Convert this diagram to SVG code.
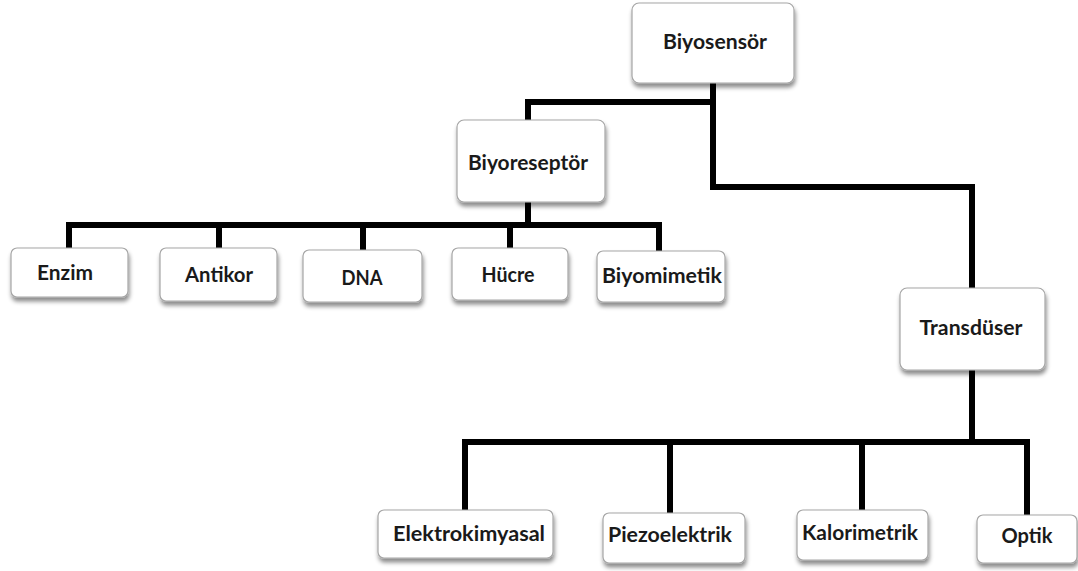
<svg xmlns="http://www.w3.org/2000/svg" width="1078" height="571" viewBox="0 0 1078 571">
<defs>
<filter id="sh" x="-10%" y="-10%" width="125%" height="140%">
<feDropShadow dx="1" dy="4" stdDeviation="2" flood-color="#000" flood-opacity="0.45"/>
</filter>
<style>
.box{fill:#fff;stroke:#a6a6a6;stroke-width:1.2;filter:url(#sh)}
.lbl{font-family:Lato,"Open Sans","Liberation Sans",sans-serif;font-weight:bold;font-size:20px;fill:#1a1a1a;text-anchor:middle}
.con{fill:none;stroke:#000;stroke-width:6;stroke-linejoin:miter;stroke-linecap:butt}
</style>
</defs>
<rect width="1078" height="571" fill="#fff"/>
<g id="connectors">
<path class="con" d="M713 83 V102 H528 V120"/>
<path class="con" d="M713 102 V187 H972 V288"/>
<path class="con" d="M528 202 V225"/>
<path class="con" d="M69 248 V225 H659 V251"/>
<path class="con" d="M219 225 V248"/>
<path class="con" d="M363 225 V250"/>
<path class="con" d="M510 225 V248"/>
<path class="con" d="M972 370 V442"/>
<path class="con" d="M465 510 V442 H1027 V515"/>
<path class="con" d="M670 442 V513"/>
<path class="con" d="M862 442 V510"/>
</g>
<g id="biyosensor"><rect class="box" x="632" y="3" width="162" height="80" rx="7"/><text class="lbl" x="715" y="49" textLength="104" lengthAdjust="spacingAndGlyphs">Biyosensör</text></g>
<g id="biyoreseptor"><rect class="box" x="457" y="120" width="148" height="82" rx="7"/><text class="lbl" x="528" y="170" textLength="120" lengthAdjust="spacingAndGlyphs">Biyoreseptör</text></g>
<g id="enzim"><rect class="box" x="11" y="248" width="117" height="49" rx="6"/><text class="lbl" x="65" y="280" textLength="56" lengthAdjust="spacingAndGlyphs">Enzim</text></g>
<g id="antikor"><rect class="box" x="160" y="248" width="117" height="53" rx="6"/><text class="lbl" x="219" y="282" textLength="68" lengthAdjust="spacingAndGlyphs">Antikor</text></g>
<g id="dna"><rect class="box" x="303" y="250" width="119" height="52" rx="6"/><text class="lbl" x="362" y="285" textLength="41" lengthAdjust="spacingAndGlyphs">DNA</text></g>
<g id="hucre"><rect class="box" x="452" y="248" width="116" height="52" rx="6"/><text class="lbl" x="508" y="282" textLength="53" lengthAdjust="spacingAndGlyphs">Hücre</text></g>
<g id="biyomimetik"><rect class="box" x="597" y="251" width="128" height="51" rx="6"/><text class="lbl" x="662" y="283" textLength="120" lengthAdjust="spacingAndGlyphs">Biyomimetik</text></g>
<g id="transduser"><rect class="box" x="900" y="288" width="145" height="82" rx="7"/><text class="lbl" x="971" y="335" textLength="103" lengthAdjust="spacingAndGlyphs">Transdüser</text></g>
<g id="elektrokimyasal"><rect class="box" x="378" y="510" width="175" height="48" rx="6"/><text class="lbl" x="469" y="541" textLength="152" lengthAdjust="spacingAndGlyphs">Elektrokimyasal</text></g>
<g id="piezoelektrik"><rect class="box" x="603" y="513" width="142" height="50" rx="6"/><text class="lbl" x="670" y="542" textLength="124" lengthAdjust="spacingAndGlyphs">Piezoelektrik</text></g>
<g id="kalorimetrik"><rect class="box" x="797" y="510" width="131" height="50" rx="6"/><text class="lbl" x="860" y="540" textLength="116" lengthAdjust="spacingAndGlyphs">Kalorimetrik</text></g>
<g id="optik"><rect class="box" x="977" y="515" width="100" height="48" rx="6"/><text class="lbl" x="1027" y="543" textLength="51" lengthAdjust="spacingAndGlyphs">Optik</text></g>
</svg>
